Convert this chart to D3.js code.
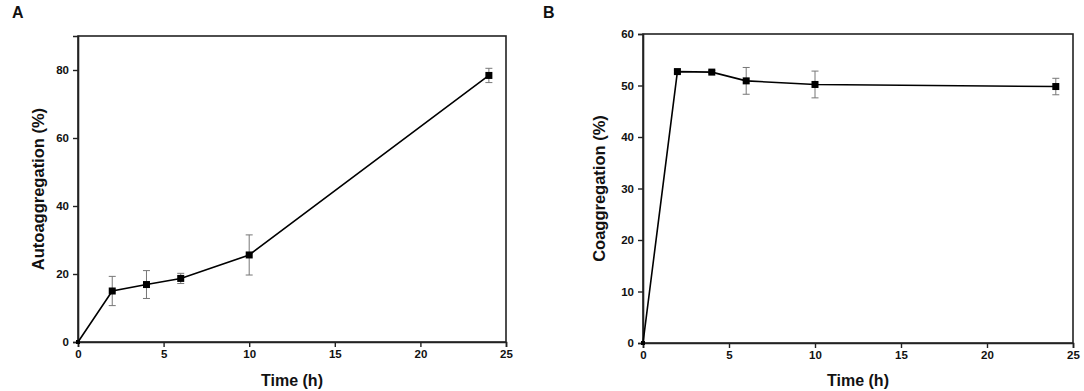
<!DOCTYPE html>
<html>
<head>
<meta charset="utf-8">
<script src="https://cdn.jsdelivr.net/npm/d3@7"></script>
<style>
  body { margin: 0; background: #fff; }
  text { font-family: "Liberation Sans", Arial, sans-serif; font-weight: bold; }
</style>
</head>
<body>
<svg id="chart" width="1084" height="391"></svg>
<script>
// time points (h)
var hours = [0, 2, 4, 6, 10, 24];
// panel A: autoaggregation (%) and error
var autoValues = [0, 15.0, 16.9, 18.7, 25.6, 78.4];
var autoErrors = [0, 4.3, 4.1, 1.5, 5.9, 2.1];
// panel B: coaggregation (%) and error
var coValues = [0, 52.7, 52.6, 50.9, 50.2, 49.8];
var coErrors = [0, 0.3, 0.3, 2.6, 2.6, 1.6];
var xTicks = [0, 5, 10, 15, 20, 25];
var autoTicks = [0, 20, 40, 60, 80];
var coTicks = [0, 10, 20, 30, 40, 50, 60];

var svg = d3.select("#chart");

function drawPanel(opt) {
  var x = d3.scaleLinear().domain([0, 25]).range([opt.left, opt.right]);
  var y = d3.scaleLinear().domain([0, opt.yMax]).range([opt.bottom, opt.top]);
  var g = svg.append("g");

  // frame
  g.append("rect")
    .attr("x", opt.left).attr("y", opt.top)
    .attr("width", opt.right - opt.left).attr("height", opt.bottom - opt.top)
    .attr("fill", "none").attr("stroke", "#222").attr("stroke-width", 1.6);

  var xAxis = g.append("g")
    .attr("transform", "translate(0," + opt.bottom + ")")
    .call(d3.axisBottom(x).tickValues(xTicks).tickSize(5).tickPadding(3).tickFormat(d3.format("d")));
  var yAxis = g.append("g")
    .attr("transform", "translate(" + opt.left + ",0)")
    .call(d3.axisLeft(y).tickValues(opt.ticks).tickSize(5).tickPadding(4).tickFormat(d3.format("d")));
  [xAxis, yAxis].forEach(function(a) {
    a.select(".domain").attr("stroke", "#222").attr("stroke-width", 1.6);
    a.selectAll(".tick line").attr("stroke", "#222").attr("stroke-width", 1.4);
    a.selectAll(".tick text").attr("fill", "#111").style("font-size", "11.5px");
  });

  var pts = hours.map(function(h, i) { return {t: h, v: opt.values[i], e: opt.errors[i]}; });

  // line
  g.append("path")
    .datum(pts)
    .attr("fill", "none").attr("stroke", "#000").attr("stroke-width", 1.6)
    .attr("d", d3.line().x(function(d) { return x(d.t); }).y(function(d) { return y(d.v); }));

  // error bars
  var eb = g.selectAll(".err").data(pts.filter(function(d) { return d.e > 0; }))
    .enter().append("g").attr("stroke", "#777").attr("stroke-width", 1);
  eb.append("line")
    .attr("x1", function(d) { return x(d.t); }).attr("x2", function(d) { return x(d.t); })
    .attr("y1", function(d) { return y(d.v - d.e); }).attr("y2", function(d) { return y(d.v + d.e); });
  eb.append("line")
    .attr("x1", function(d) { return x(d.t) - 3.5; }).attr("x2", function(d) { return x(d.t) + 3.5; })
    .attr("y1", function(d) { return y(d.v + d.e); }).attr("y2", function(d) { return y(d.v + d.e); });
  eb.append("line")
    .attr("x1", function(d) { return x(d.t) - 3.5; }).attr("x2", function(d) { return x(d.t) + 3.5; })
    .attr("y1", function(d) { return y(d.v - d.e); }).attr("y2", function(d) { return y(d.v - d.e); });

  // square markers
  g.selectAll(".mark").data(pts.slice(1))
    .enter().append("rect")
    .attr("x", function(d) { return x(d.t) - 3.5; })
    .attr("y", function(d) { return y(d.v) - 3.5; })
    .attr("width", 7).attr("height", 7)
    .attr("fill", "#000");
  // small marker at origin
  g.append("rect")
    .attr("x", x(0) - 2).attr("y", y(0) - 2).attr("width", 4).attr("height", 4).attr("fill", "#000");

  // axis titles
  g.append("text")
    .attr("x", (opt.left + opt.right) / 2).attr("y", 386)
    .attr("text-anchor", "middle").style("font-size", "16px").attr("fill", "#111")
    .text("Time (h)");
  g.append("text")
    .attr("transform", "translate(" + opt.titleX + "," + ((opt.top + opt.bottom) / 2) + ") rotate(-90)")
    .attr("text-anchor", "middle").style("font-size", "16.5px").attr("fill", "#111")
    .text(opt.yTitle);

  // panel letter
  g.append("text")
    .attr("x", opt.letterX).attr("y", opt.letterY)
    .style("font-size", "16px").attr("fill", "#111")
    .text(opt.letter);
}

drawPanel({
  left: 78, right: 506, top: 36, bottom: 342, yMax: 90,
  ticks: autoTicks, values: autoValues, errors: autoErrors,
  yTitle: "Autoaggregation (%)", titleX: 44,
  letter: "A", letterX: 12, letterY: 18
});

drawPanel({
  left: 643, right: 1073, top: 34, bottom: 343, yMax: 60,
  ticks: coTicks, values: coValues, errors: coErrors,
  yTitle: "Coaggregation (%)", titleX: 605,
  letter: "B", letterX: 543, letterY: 18
});
</script>
</body>
</html>
